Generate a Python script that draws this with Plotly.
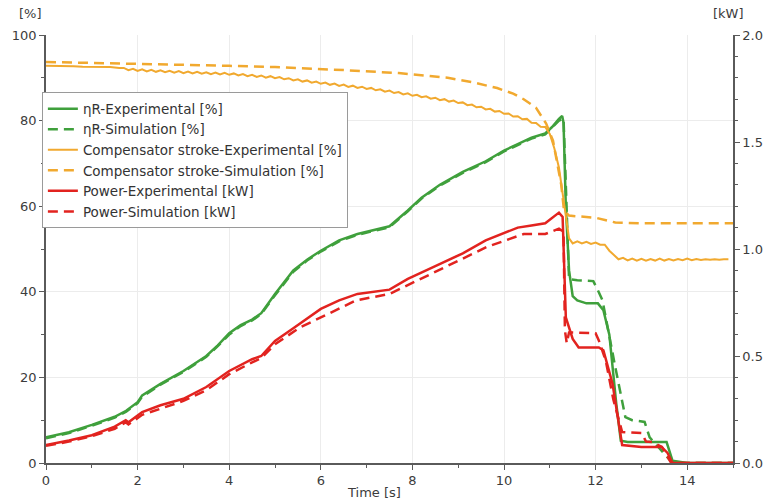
import numpy as np
import plotly.graph_objects as go

# ---- colours ----
GREEN = "#3fa03c"
ORANGE = "#f1a92f"
RED = "#e2231f"

# ---- efficiency ηR [%] ----
eta_exp_t = [0, 0.5, 1.0, 1.5, 1.75, 2.0, 2.1, 2.5, 3.0, 3.5, 3.75, 4.0, 4.25, 4.5, 4.7,
             5.0, 5.4, 5.7, 6.0, 6.4, 6.8, 7.2, 7.5, 7.9, 8.2, 8.6, 9.1, 9.6, 10.0, 10.3,
             10.6, 10.9, 11.05, 11.2, 11.27, 11.3, 11.35, 11.42, 11.5, 11.6, 11.8, 12.05,
             12.17, 12.3, 12.45, 12.55, 12.7, 13.0, 13.3, 13.55, 13.68, 14.0, 15.0]
eta_exp = [6.0, 7.2, 8.9, 10.8, 12.2, 14.2, 15.8, 18.5, 21.5, 25.0, 27.5, 30.3, 32.2, 33.5, 35.0,
           39.5, 45.0, 47.5, 49.6, 52.0, 53.5, 54.5, 55.3, 59.0, 62.0, 65.0, 68.0, 70.5, 73.0, 74.5,
           76.0, 77.0, 78.5, 80.4, 81.1, 79.5, 60.0, 45.0, 39.0, 38.0, 37.3, 37.3,
           35.7, 30.0, 14.0, 5.2, 4.9, 4.9, 4.9, 4.9, 0.5, 0.0, 0.0]

eta_sim_t = [0, 0.5, 1.0, 1.5, 1.75, 2.0, 2.1, 2.5, 3.0, 3.5, 3.75, 4.0, 4.25, 4.5, 4.7,
             5.0, 5.4, 5.7, 6.0, 6.4, 6.8, 7.2, 7.5, 7.9, 8.2, 8.6, 9.1, 9.6, 10.0, 10.3,
             10.6, 10.9, 11.05, 11.2, 11.3, 11.36, 11.42, 11.6, 11.95, 12.07, 12.15, 12.43,
             12.65, 12.8, 13.07, 13.18, 13.68, 14.0, 15.0]
eta_sim = [5.8, 7.0, 8.7, 10.6, 12.0, 14.0, 15.5, 18.3, 21.3, 24.8, 27.3, 30.0, 32.0, 33.3, 34.8,
           39.2, 44.7, 47.3, 49.4, 51.8, 53.3, 54.3, 55.1, 58.8, 61.8, 64.8, 67.8, 70.3, 72.8, 74.3,
           75.8, 76.8, 78.3, 80.0, 80.5, 60.0, 43.0, 42.7, 42.5, 39.9, 38.0, 22.4,
           10.7, 10.0, 9.6, 6.0, 0.0, 0.0, 0.0]

# ---- compensator stroke [%] ----
stroke_exp_t = [0, 0.2, 0.4, 0.6, 0.8, 1.0, 1.2, 1.4, 1.6,
                1.7, 1.8, 1.9, 2.0, 2.1, 2.2, 2.3, 2.4, 2.5, 2.6, 2.7, 2.8, 2.9,
                3.0, 3.1, 3.2, 3.3, 3.4, 3.5, 3.6, 3.7, 3.8, 3.9,
                4.0, 4.1, 4.2, 4.3, 4.4, 4.5, 4.6, 4.7, 4.8, 4.9,
                5.0, 5.1, 5.2, 5.3, 5.4, 5.5, 5.6, 5.7, 5.8, 5.9,
                6.0, 6.1, 6.2, 6.3, 6.4, 6.5, 6.6, 6.7, 6.8, 6.9,
                7.0, 7.1, 7.2, 7.3, 7.4, 7.5, 7.6, 7.7, 7.8, 7.9,
                8.0, 8.1, 8.2, 8.3, 8.4, 8.5, 8.6, 8.7, 8.8, 8.9,
                9.0, 9.1, 9.2, 9.3, 9.4, 9.5, 9.6, 9.7, 9.8, 9.9,
                10.0, 10.1, 10.2, 10.3, 10.4, 10.5, 10.6, 10.7, 10.8, 10.9,
                11.0, 11.1, 11.2, 11.3, 11.35, 11.42, 11.5, 11.6, 11.7, 11.8, 11.9,
                12.0, 12.1, 12.2, 12.3, 12.4, 12.5, 12.6, 12.7, 12.8, 12.9,
                13.0, 13.1, 13.2, 13.3, 13.4, 13.5, 13.6, 13.7, 13.8, 13.9,
                14.0, 14.1, 14.2, 14.3, 14.4, 14.5, 14.6, 14.7, 14.8, 14.9]
stroke_exp = [92.8, 92.8, 92.7, 92.7, 92.6, 92.6, 92.5, 92.5, 92.3,
              92.3, 91.8, 92.1, 91.6, 92.0, 91.5, 91.85, 91.4, 91.75, 91.3, 91.65, 91.2, 91.55,
              91.1, 91.45, 91.0, 91.4, 90.95, 91.3, 90.85, 91.22, 90.78, 91.15,
              90.7, 91.02, 90.55, 90.85, 90.38, 90.7, 90.22, 90.55, 90.05, 90.38,
              89.9, 90.17, 89.65, 89.91, 89.38, 89.65, 89.12, 89.39, 88.86, 89.13,
              88.6, 88.88, 88.36, 88.64, 88.12, 88.4, 87.88, 88.16, 87.64, 87.92,
              87.4, 87.64, 87.08, 87.32, 86.76, 87.0, 86.44, 86.68, 86.12, 86.36,
              85.8, 86.03, 85.46, 85.69, 85.12, 85.35, 84.78, 85.01, 84.44, 84.67,
              84.1, 84.25, 83.6, 83.75, 83.1, 83.25, 82.6, 82.75, 82.1, 82.25,
              81.6, 81.68, 80.96, 81.04, 80.32, 80.4, 79.52, 79.45, 78.57, 78.5,
              76.9, 73.5, 69.0, 62.0, 58.0, 52.5, 51.3, 51.8, 51.3, 51.7, 51.2,
              51.5, 51.0, 51.0, 49.6, 48.6, 47.6, 47.95, 47.35, 47.75, 47.25,
              47.7, 47.25, 47.65, 47.3, 47.75, 47.3, 47.65, 47.3, 47.65, 47.4,
              47.75, 47.4, 47.65, 47.45, 47.6, 47.5, 47.6, 47.5, 47.6, 47.6]

stroke_sim_t = [0, 1.0, 2.0, 3.0, 4.0, 5.0, 5.55, 6.5, 7.7, 8.77, 9.3, 9.85, 10.2, 10.43,
                10.7, 10.92, 11.07, 11.25, 11.31, 11.42, 12.0, 12.2, 12.43, 13.0, 15.0]
stroke_sim = [93.7, 93.5, 93.3, 93.0, 92.8, 92.5, 92.3, 91.8, 91.1, 90.0, 89.0, 87.6, 86.3, 85.0,
              83.0, 79.3, 75.3, 65.0, 59.0, 57.8, 57.3, 56.8, 56.2, 56.0, 56.0]

# ---- power [kW] ----
power_exp_t = [0, 0.5, 1.0, 1.5, 1.74, 1.8, 2.1, 2.5, 3.0, 3.5, 4.0, 4.5, 4.7, 5.0, 5.4,
               6.0, 6.4, 6.8, 7.5, 7.9, 8.5, 9.1, 9.6, 10.3, 10.6, 10.9, 11.2, 11.28, 11.35,
               11.5, 11.63, 12.07, 12.17, 12.37, 12.58, 13.0, 13.44, 13.57, 13.68, 15.0]
power_exp = [0.084, 0.105, 0.13, 0.17, 0.20, 0.19, 0.238, 0.27, 0.30, 0.355, 0.43, 0.485, 0.50,
             0.57, 0.63, 0.72, 0.76, 0.79, 0.81, 0.86, 0.92, 0.98, 1.04, 1.10, 1.11, 1.12, 1.17,
             1.15, 0.68, 0.58, 0.54, 0.54, 0.527, 0.37, 0.084, 0.075, 0.075, 0.047, 0.0, 0.0]

power_sim_t = [0, 0.5, 1.0, 1.5, 1.74, 1.8, 2.1, 2.5, 3.0, 3.5, 4.0, 4.5, 4.7, 5.0, 5.55,
               6.0, 6.77, 7.5, 8.56, 9.63, 10.43, 10.9, 11.2, 11.3, 11.33, 11.37, 11.42,
               12.0, 12.07, 12.22, 12.39, 12.58, 13.01, 13.1, 13.23, 13.45, 13.65, 15.0]
power_sim = [0.08, 0.10, 0.125, 0.16, 0.19, 0.18, 0.225, 0.255, 0.29, 0.34, 0.415, 0.47, 0.49,
             0.555, 0.634, 0.68, 0.76, 0.79, 0.90, 1.01, 1.07, 1.07, 1.095, 1.08, 0.62, 0.56,
             0.61, 0.606, 0.573, 0.48, 0.294, 0.145, 0.14, 0.10, 0.098, 0.075, 0.0, 0.0]

DASH = "10px,6px"
LW = 2.5

fig = go.Figure()
fig.add_trace(go.Scatter(x=eta_exp_t, y=eta_exp, mode="lines", name="ηR-Experimental [%]",
                         line=dict(color=GREEN, width=LW)))
fig.add_trace(go.Scatter(x=eta_sim_t, y=eta_sim, mode="lines", name="ηR-Simulation [%]",
                         line=dict(color=GREEN, width=LW, dash=DASH)))
fig.add_trace(go.Scatter(x=stroke_exp_t, y=stroke_exp, mode="lines",
                         name="Compensator stroke-Experimental [%]",
                         line=dict(color=ORANGE, width=2)))
fig.add_trace(go.Scatter(x=stroke_sim_t, y=stroke_sim, mode="lines",
                         name="Compensator stroke-Simulation [%]",
                         line=dict(color=ORANGE, width=LW, dash=DASH)))
fig.add_trace(go.Scatter(x=power_exp_t, y=power_exp, mode="lines", name="Power-Experimental [kW]",
                         line=dict(color=RED, width=LW), yaxis="y2"))
fig.add_trace(go.Scatter(x=power_sim_t, y=power_sim, mode="lines", name="Power-Simulation [kW]",
                         line=dict(color=RED, width=LW, dash=DASH), yaxis="y2"))

AXC = "#5a5a5a"
TICKF = dict(family="DejaVu Sans", size=13, color="#3c3c3c")

fig.update_layout(
    width=775, height=500,
    margin=dict(l=42, r=34, t=35, b=37),
    paper_bgcolor="white", plot_bgcolor="white",
    font=dict(family="DejaVu Sans", size=13, color="#333333"),
    showlegend=True,
    legend=dict(x=-0.006, y=0.866, xanchor="left", yanchor="top",
                bgcolor="white", bordercolor="#9a9a9a", borderwidth=1,
                font=dict(family="DejaVu Sans", size=13.5, color="#333333"),
                itemwidth=30, tracegroupgap=0),
    xaxis=dict(range=[0, 15], tick0=0, dtick=2, showgrid=True, gridcolor="#ececec",
               showline=True, linecolor=AXC, linewidth=1.5, zeroline=False,
               ticks="outside", ticklen=5, tickcolor=AXC, tickfont=TICKF,
               minor=dict(dtick=1, ticks="outside", ticklen=3, tickcolor=AXC, showgrid=False)),
    yaxis=dict(range=[0, 100], tick0=0, dtick=20, showgrid=True, gridcolor="#ececec",
               showline=True, linecolor=AXC, linewidth=1.5, zeroline=False,
               ticks="outside", ticklen=5, tickcolor=AXC, tickfont=TICKF,
               minor=dict(dtick=10, ticks="outside", ticklen=3, tickcolor=AXC, showgrid=False)),
    yaxis2=dict(range=[0, 2], tick0=0, dtick=0.5, tickformat=".1f", overlaying="y", side="right",
                showgrid=False, showline=True, linecolor=AXC, linewidth=1.5, zeroline=False,
                ticks="outside", ticklen=5, tickcolor=AXC, tickfont=TICKF,
                minor=dict(dtick=0.1, ticks="outside", ticklen=3, tickcolor=AXC, showgrid=False)),
)

# unit labels and axis title
fig.add_annotation(text="[%]", xref="paper", yref="paper", x=-0.023, y=1.05,
                   showarrow=False, xanchor="center", yanchor="middle", font=TICKF)
fig.add_annotation(text="[kW]", xref="paper", yref="paper", x=0.994, y=1.05,
                   showarrow=False, xanchor="center", yanchor="middle", font=TICKF)
fig.add_annotation(text="Time [s]", xref="paper", yref="paper", x=0.478, y=-0.068,
                   showarrow=False, xanchor="center", yanchor="middle", font=TICKF)

# divider between the stroke and power entries of the legend
fig.add_shape(type="line", xref="paper", yref="paper", x0=-0.004, x1=0.43, y0=0.652, y1=0.652,
              line=dict(color="#dddddd", width=1))

fig.write_html("out.html")
